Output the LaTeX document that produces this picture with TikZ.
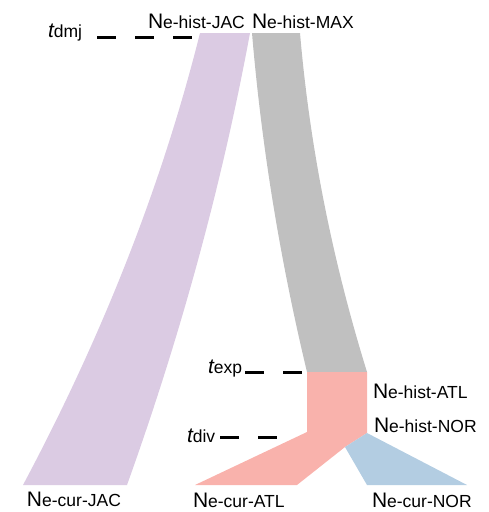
\documentclass[tikz,border=0pt]{standalone}
\usepackage{fontspec}
\setmainfont{Liberation Sans}
\definecolor{jacpurple}{RGB}{219,203,227}
\definecolor{maxgray}{RGB}{192,192,192}
\definecolor{atlred}{RGB}{249,178,172}
\definecolor{norblue}{RGB}{179,205,226}
\newcommand{\bigN}{{\fontsize{21}{21}\selectfont N}}
\newcommand{\subtxt}[1]{{\fontsize{17.5}{17.5}\selectfont #1}}
\newcommand{\bigT}{{\fontsize{21}{21}\selectfont\itshape t}}
\begin{document}
\begin{tikzpicture}[x=1pt,y=-1pt,
  lbl/.style={anchor=base west,inner sep=0pt,outer sep=0pt},
  tline/.style={line width=3pt,dash pattern=on 19pt off 19pt}]
\useasboundingbox (0,0) rectangle (489,512);
% purple (JAC)
\fill[jacpurple] (200,33) -- (250,33)
  .. controls (222.1,183.7) and (181.1,334.3) .. (127,485)
  -- (23,485)
  .. controls (103.3,334.3) and (162.3,183.7) .. (200,33) -- cycle;
% gray (MAX)
\fill[maxgray] (252,33) -- (300,33)
  .. controls (309.7,146) and (332,259) .. (367,372)
  -- (307,372)
  .. controls (279.9,259) and (261.5,146) .. (252,33) -- cycle;
% red (ATL)
\fill[atlred] (307,372) -- (367,372) -- (367,433) -- (345,447)
  -- (297,485) -- (195,485) -- (307,432) -- cycle;
% blue (NOR)
\fill[norblue] (367,433) -- (467,485) -- (367,485) -- (345,447) -- cycle;
% time markers
\coordinate (dmjA) at (97,37);   \coordinate (dmjB) at (194,37);
\coordinate (expA) at (245,372); \coordinate (expB) at (303,372);
\coordinate (divA) at (220,437); \coordinate (divB) at (278,437);
\draw[tline] (dmjA) -- (dmjB);
\draw[tline] (expA) -- (expB);
\draw[tline] (divA) -- (divB);
% labels
\node[lbl] (tdmj) at (48,37) {\bigT\subtxt{dmj}};
\node[lbl] (texp) at (208,373) {\bigT\subtxt{exp}};
\node[lbl] (tdiv) at (187,442) {\bigT\subtxt{div}};
\node[lbl] (hjac) at (148,28) {\bigN\subtxt{e-hist-JAC}};
\node[lbl] (hmax) at (252,28) {\bigN\subtxt{e-hist-MAX}};
\node[lbl] (hatl) at (373,398) {\bigN\subtxt{e-hist-ATL}};
\node[lbl] (hnor) at (374,432) {\bigN\subtxt{e-hist-NOR}};
\node[lbl] (cjac) at (27,506) {\bigN\subtxt{e-cur-JAC}};
\node[lbl] (catl) at (193,507) {\bigN\subtxt{e-cur-ATL}};
\node[lbl] (cnor) at (372,507) {\bigN\subtxt{e-cur-NOR}};
\end{tikzpicture}
\end{document}
